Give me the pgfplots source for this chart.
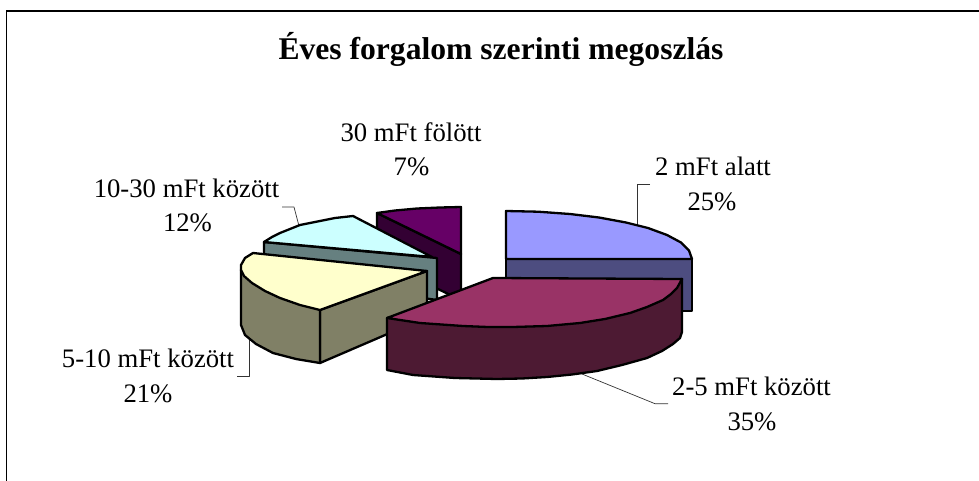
\documentclass[border=0pt]{standalone}
\usepackage{fontspec}
\setmainfont{Liberation Serif}
\usepackage{pgfplots}
\pgfplotsset{compat=1.18}
\definecolor{blueT}{HTML}{9999FF}\definecolor{blueS}{HTML}{4D4D80}
\definecolor{marT}{HTML}{993366}\definecolor{marS}{HTML}{4D1A33}
\definecolor{yelT}{HTML}{FFFFCC}\definecolor{yelS}{HTML}{808066}
\definecolor{cyaT}{HTML}{CCFFFF}\definecolor{cyaS}{HTML}{668080}
\definecolor{purT}{HTML}{660066}\definecolor{purS}{HTML}{330033}
\newcommand{\lab}{\fontsize{26.7}{30}\selectfont}
\begin{document}
\begin{tikzpicture}
\path[use as bounding box] (0,0) rectangle (979pt,481pt);
\begin{axis}[scale only axis,width=979pt,height=481pt,xmin=0,xmax=979,ymin=0,ymax=481,
  y dir=reverse,hide axis,clip=true,anchor=south west,at={(0,0)},
  every axis plot/.append style={line width=2.3pt,line join=round,draw=black}]
% frame
\addplot[draw=black,line width=1.4pt,line join=miter] coordinates {(6.7,481)(6.7,11)(979,11)};
% leader lines
\addplot[draw=black!80,line width=0.7pt] coordinates {(650,184.5)(637.7,184.5)(637.7,225)};
\addplot[draw=black!80,line width=0.7pt] coordinates {(282,207)(294,207)(299,226)};
\addplot[draw=black!80,line width=0.7pt] coordinates {(237,376)(249,376)(249,340)};
\addplot[draw=black!80,line width=0.7pt] coordinates {(582,374)(655,403.7)(668,403.7)};
% purple
\addplot[fill=purS] coordinates {(377,213)(461,254)(461,300)(377,260)} --cycle;
\addplot[fill=purT] coordinates {(377,213)(395,210.5)(417,208.5)(440,207.5)(461,207)(461,254)} --cycle;
% cyan
\addplot[fill=cyaS] coordinates {(264,242)(437,258)(437,300)(264,275)} --cycle;
\addplot[fill=cyaT] coordinates {(264,242)(272,237)(280,233)(290,229)(300,225)(315,222)(335,218)(353,216)(432,257)} --cycle;
% yellow
\addplot[fill=yelS] coordinates {(320,310)(427,271)(427,317)(320,363)} --cycle;
\addplot[fill=yelS] coordinates {(241,270)(320,310)(320,363)(296,359)(273,353)(256,344)(245,335)(241,325)} --cycle;
\addplot[fill=yelT] coordinates {(253,253)(427,271)(320,310)(300,305)(280,298)(265,291)(252,283)(244,276)(241,270)(241,265)(245,258)} --cycle;
% blue
\addplot[fill=blueS] coordinates {(506,259)(692,259)(692,311)(506,311)} --cycle;
\addplot[fill=blueT] coordinates {(506,211)(538,211.7)(570,214)(599,217.5)(626,222.5)(648,228)(667,235)(681,242.5)(689,250.5)(692,259)(506,259)} --cycle;
% maroon
\addplot[fill=marS] coordinates {(387,318)(682,279)(682,332)(680,338)(673,344)(662,351)(647,358)(622,365)(597,371)(572,374.5)(547,377)(522,378.5)(497,379)(455,378)(413,375)(387,370)} --cycle;
\addplot[fill=marT] coordinates {(493,278)(682,279)(677,288)(671,294)(663,300)(647,307)(630,313)(605,319)(580,323)(547,326)(513,327)(488,327)(463,326)(420,323)(387,318)} --cycle;
% texts
\node[anchor=base,font=\fontsize{31.6}{34}\bfseries\selectfont] at (axis cs:501,59.5) {Éves forgalom szerinti megoszlás};
\node[anchor=base,font=\lab] at (axis cs:411,141.7) {30 mFt fölött};
\node[anchor=base,font=\lab] at (axis cs:411.5,176) {7\%};
\node[anchor=base,font=\lab] at (axis cs:713,175.7) {2 mFt alatt};
\node[anchor=base,font=\lab] at (axis cs:712,210) {25\%};
\node[anchor=base,font=\lab] at (axis cs:186.5,197) {10-30 mFt között};
\node[anchor=base,font=\lab] at (axis cs:187.5,231.7) {12\%};
\node[anchor=base,font=\lab] at (axis cs:148,367.7) {5-10 mFt között};
\node[anchor=base,font=\lab] at (axis cs:148,402) {21\%};
\node[anchor=base,font=\lab] at (axis cs:751.5,395) {2-5 mFt között};
\node[anchor=base,font=\lab] at (axis cs:752,430) {35\%};
\end{axis}
\end{tikzpicture}
\end{document}
